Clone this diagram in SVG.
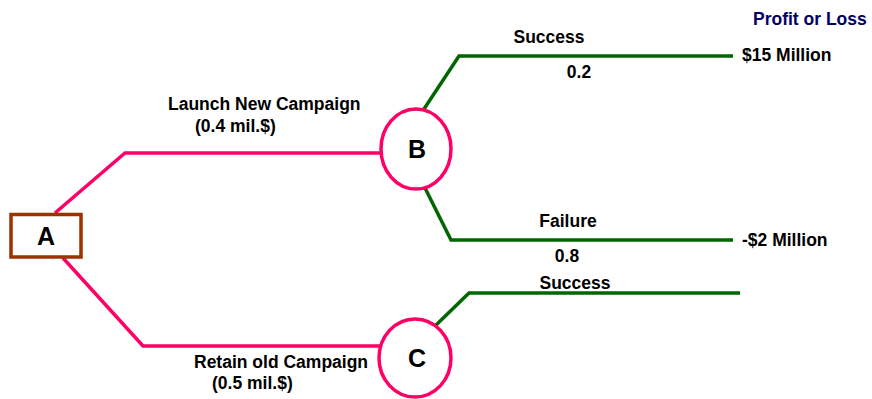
<svg xmlns="http://www.w3.org/2000/svg" width="872" height="399" viewBox="0 0 872 399">
<style>
text{font-family:"Liberation Sans",Arial,sans-serif;font-weight:bold;fill:#000}
.lbl{font-size:17.5px}
.big{font-size:25px}
.pink{stroke:#FF0066;stroke-width:3.5;fill:none}
.green{stroke:#006600;stroke-width:3.5;fill:none}
</style>
<rect width="872" height="399" fill="#fff"/>
<g id="connectors">
<polyline class="pink" points="55,213 125,153 381,153"/>
<polyline class="pink" points="63,258 143,346 380,346"/>
<polyline class="green" points="424,109 459,56 733,56"/>
<polyline class="green" points="425,188 451,240 733,240"/>
<polyline class="green" points="434,327 469,293 740,293"/>
</g>
<g id="nodeA">
<rect x="11" y="214.5" width="70" height="42.5" fill="#fff" stroke="#993300" stroke-width="3.5"/>
<text class="big" x="46" y="245" text-anchor="middle">A</text>
</g>
<g id="nodeB">
<ellipse cx="416" cy="149" rx="35" ry="40" fill="#fff" stroke="#FF0066" stroke-width="3.5"/>
<text class="big" x="417" y="158" text-anchor="middle">B</text>
</g>
<g id="nodeC">
<ellipse cx="415" cy="358" rx="36" ry="39" fill="#fff" stroke="#FF0066" stroke-width="3.5"/>
<text class="big" x="417" y="367" text-anchor="middle">C</text>
</g>
<g id="labels">
<text class="lbl" x="168" y="110">Launch New Campaign</text>
<text class="lbl" x="195" y="132">(0.4 mil.$)</text>
<text class="lbl" x="194" y="368">Retain old Campaign</text>
<text class="lbl" x="212" y="389">(0.5 mil.$)</text>
<text class="lbl" x="549" y="43" text-anchor="middle">Success</text>
<text class="lbl" x="579" y="78" text-anchor="middle">0.2</text>
<text class="lbl" x="568" y="227" text-anchor="middle">Failure</text>
<text class="lbl" x="567" y="262" text-anchor="middle">0.8</text>
<text class="lbl" x="575" y="289" text-anchor="middle">Success</text>
<text class="lbl" x="742" y="61">$15 Million</text>
<text class="lbl" x="742" y="246">-$2 Million</text>
<text class="lbl" x="753" y="25" style="fill:#000066">Profit or Loss</text>
</g>
</svg>
